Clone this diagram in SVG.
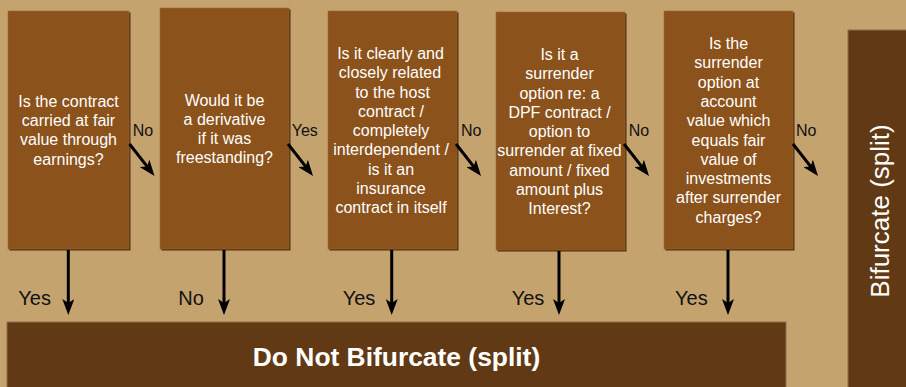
<svg xmlns="http://www.w3.org/2000/svg" width="906" height="387" viewBox="0 0 906 387">
<style>
.q{fill:#8B521B;}
.sh{fill:#4F2E10;}
.dk{fill:#613914;}
.qt{font-family:"Liberation Sans",Arial,sans-serif;font-size:16px;fill:#FFFFFF;text-anchor:middle;}
.lbl{font-family:"Liberation Sans",Arial,sans-serif;font-size:16px;fill:#111111;}
.lbl2{font-family:"Liberation Sans",Arial,sans-serif;font-size:20px;fill:#111111;}
.cn{stroke:#000;stroke-width:3;fill:none;marker-end:url(#ah);}
</style>
<defs>
<marker id="ah" viewBox="0 0 16 12" refX="8" refY="6" markerWidth="16" markerHeight="12" orient="auto" markerUnits="userSpaceOnUse">
<path d="M0,0 L16,6 L0,12 L4,6 Z" fill="#000"/>
</marker>
</defs>
<rect x="0" y="0" width="906" height="387" fill="#C5A36F"/>

<g id="q1">
<rect class="sh" x="9.5" y="12.5" width="121" height="238"/>
<rect class="q" x="8" y="11" width="121" height="238" stroke="#9C6A36" stroke-width="0.6"/>
<text class="qt"><tspan x="68.5" y="107">Is the contract</tspan><tspan x="68.5" y="126">carried at fair</tspan><tspan x="68.5" y="145">value through</tspan><tspan x="68.5" y="164.5">earnings?</tspan></text>
</g>

<g id="q2">
<rect class="sh" x="161.5" y="9.5" width="129" height="241"/>
<rect class="q" x="160" y="8" width="129" height="241" stroke="#9C6A36" stroke-width="0.6"/>
<text class="qt"><tspan x="224.5" y="106">Would it be</tspan><tspan x="224.5" y="125">a derivative</tspan><tspan x="224.5" y="144">if it was</tspan><tspan x="224.5" y="163">freestanding?</tspan></text>
</g>

<g id="q3">
<rect class="sh" x="329.5" y="12.5" width="129" height="238"/>
<rect class="q" x="328" y="11" width="129" height="238" stroke="#9C6A36" stroke-width="0.6"/>
<text class="qt"><tspan x="390.5" y="59">Is it clearly and</tspan><tspan x="390" y="78.3">closely related</tspan><tspan x="392.5" y="97.5">to the host</tspan><tspan x="391" y="116.8">contract /</tspan><tspan x="391" y="136">completely</tspan><tspan x="391" y="155.3">interdependent /</tspan><tspan x="391" y="174.5">is it an</tspan><tspan x="391" y="193.8">insurance</tspan><tspan x="391" y="213">contract in itself</tspan></text>
</g>

<g id="q4">
<rect class="sh" x="497.5" y="13.5" width="129" height="238"/>
<rect class="q" x="496" y="12" width="129" height="238" stroke="#9C6A36" stroke-width="0.6"/>
<text class="qt"><tspan x="559.5" y="60">Is it a</tspan><tspan x="559.5" y="79.3">surrender</tspan><tspan x="559.5" y="98.5">option re: a</tspan><tspan x="559.5" y="117.8">DPF contract /</tspan><tspan x="559.5" y="137">option to</tspan><tspan x="559.5" y="156.3">surrender at fixed</tspan><tspan x="559.5" y="175.5">amount / fixed</tspan><tspan x="559.5" y="194.8">amount plus</tspan><tspan x="559.5" y="214">Interest?</tspan></text>
</g>

<g id="q5">
<rect class="sh" x="665.5" y="12.5" width="129" height="238"/>
<rect class="q" x="664" y="11" width="129" height="238" stroke="#9C6A36" stroke-width="0.6"/>
<text class="qt"><tspan x="728.5" y="49">Is the</tspan><tspan x="728.5" y="68.3">surrender</tspan><tspan x="728.5" y="87.6">option at</tspan><tspan x="728.5" y="106.9">account</tspan><tspan x="728.5" y="126.2">value which</tspan><tspan x="728.5" y="145.5">equals fair</tspan><tspan x="728.5" y="164.8">value of</tspan><tspan x="728.5" y="184.1">investments</tspan><tspan x="728.5" y="203.4">after surrender</tspan><tspan x="728.5" y="222.7">charges?</tspan></text>
</g>

<g id="bifurcate">
<rect class="dk" x="848" y="30" width="60" height="360" stroke="#8E6E4A" stroke-width="1"/>
<text font-family="'Liberation Sans',Arial,sans-serif" font-size="26" fill="#FFFFFF" text-anchor="middle" transform="translate(889,211) rotate(-90)">Bifurcate (split)</text>
</g>

<g id="donot">
<rect class="dk" x="7" y="322" width="779" height="70" stroke="#8E6E4A" stroke-width="1"/>
<text x="396.5" y="366" font-family="'Liberation Sans',Arial,sans-serif" font-size="26.4" font-weight="bold" fill="#FFFFFF" text-anchor="middle">Do Not Bifurcate (split)</text>
</g>

<g id="connectors">
<line class="cn" x1="129.5" y1="144" x2="149.6" y2="169.7"/>
<line class="cn" x1="288" y1="144" x2="308.1" y2="169.7"/>
<line class="cn" x1="456" y1="144" x2="476.1" y2="169.7"/>
<line class="cn" x1="624" y1="144" x2="644.1" y2="169.7"/>
<line class="cn" x1="793" y1="144" x2="813.1" y2="169.7"/>
<line class="cn" x1="68.3" y1="250" x2="68.3" y2="307"/>
<line class="cn" x1="224" y1="250" x2="224" y2="307"/>
<line class="cn" x1="391.7" y1="250" x2="391.7" y2="307"/>
<line class="cn" x1="559" y1="251" x2="559" y2="307"/>
<line class="cn" x1="728" y1="250" x2="728" y2="307"/>
<text class="lbl" x="132.7" y="136">No</text>
<text class="lbl" x="291.7" y="136">Yes</text>
<text class="lbl" x="461" y="136">No</text>
<text class="lbl" x="628.7" y="136">No</text>
<text class="lbl" x="796" y="136">No</text>
<text class="lbl2" x="18.3" y="305">Yes</text>
<text class="lbl2" x="178.3" y="305">No</text>
<text class="lbl2" x="342.7" y="305">Yes</text>
<text class="lbl2" x="511.7" y="305">Yes</text>
<text class="lbl2" x="675" y="305">Yes</text>
</g>
</svg>
